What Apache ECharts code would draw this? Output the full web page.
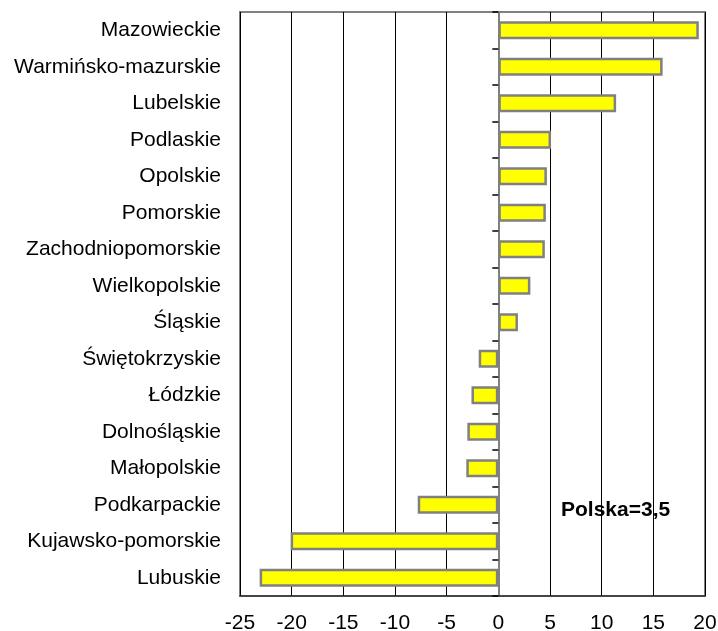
<!DOCTYPE html>
<html>
<head>
<meta charset="utf-8">
<script src="https://cdn.jsdelivr.net/npm/echarts@6/dist/echarts.min.js"></script>
<style>html,body{margin:0;padding:0;background:#fff;}#c{width:718px;height:631px;}</style>
</head>
<body>
<div id="c"></div>
<script>
const categories = ["Mazowieckie","Warmińsko-mazurskie","Lubelskie","Podlaskie","Opolskie","Pomorskie","Zachodniopomorskie","Wielkopolskie","Śląskie","Świętokrzyskie","Łódzkie","Dolnośląskie","Małopolskie","Podkarpackie","Kujawsko-pomorskie","Lubuskie"];
const values = [19.4,15.9,11.4,5.1,4.7,4.6,4.5,3.1,1.9,-1.9,-2.6,-3.0,-3.1,-7.8,-20.1,-23.1];
const xTicks = {min:-25, max:20, interval:5};
const noteText = "Polska=3,5";

const chart = echarts.init(document.getElementById('c'));
const font = "'Liberation Sans', Arial, sans-serif";
chart.setOption({
  animation:false,
  grid:{left:240,right:13,top:12,bottom:35,show:true,borderColor:'#808080',borderWidth:2,backgroundColor:'transparent',outerBoundsMode:'none',containLabel:false},
  xAxis:{type:'value',min:xTicks.min,max:xTicks.max,interval:xTicks.interval,
    axisLine:{show:true,onZero:false,lineStyle:{color:'#333',width:1.5}},
    axisTick:{show:false},
    splitLine:{show:true,lineStyle:{color:'#000',width:1}},
    axisLabel:{color:'#000',fontSize:21,fontFamily:font,margin:17}},
  yAxis:[
    {type:'category',data:categories,inverse:true,position:'left',
     axisLine:{show:false,onZero:false},axisTick:{show:false},splitLine:{show:false},
     axisLabel:{color:'#000',fontSize:21,fontFamily:font,margin:19}},
    {type:'category',data:categories,inverse:true,position:'left',
     axisLine:{show:true,onZero:true,onZeroAxisIndex:0,lineStyle:{color:'#808080',width:2}},
     axisTick:{show:true,length:6,lineStyle:{color:'#000',width:1.5}},
     axisLabel:{show:false},splitLine:{show:false}}
  ],
  series:[{type:'bar',data:values,yAxisIndex:0,barWidth:18,
    itemStyle:{color:'#ffff00',borderColor:'#808080',borderWidth:2.5}}],
  graphic:[{type:'text',left:561,top:500,style:{text:noteText,font:'bold 21px '+font,fill:'#000'}}]
});
</script>
</body>
</html>
